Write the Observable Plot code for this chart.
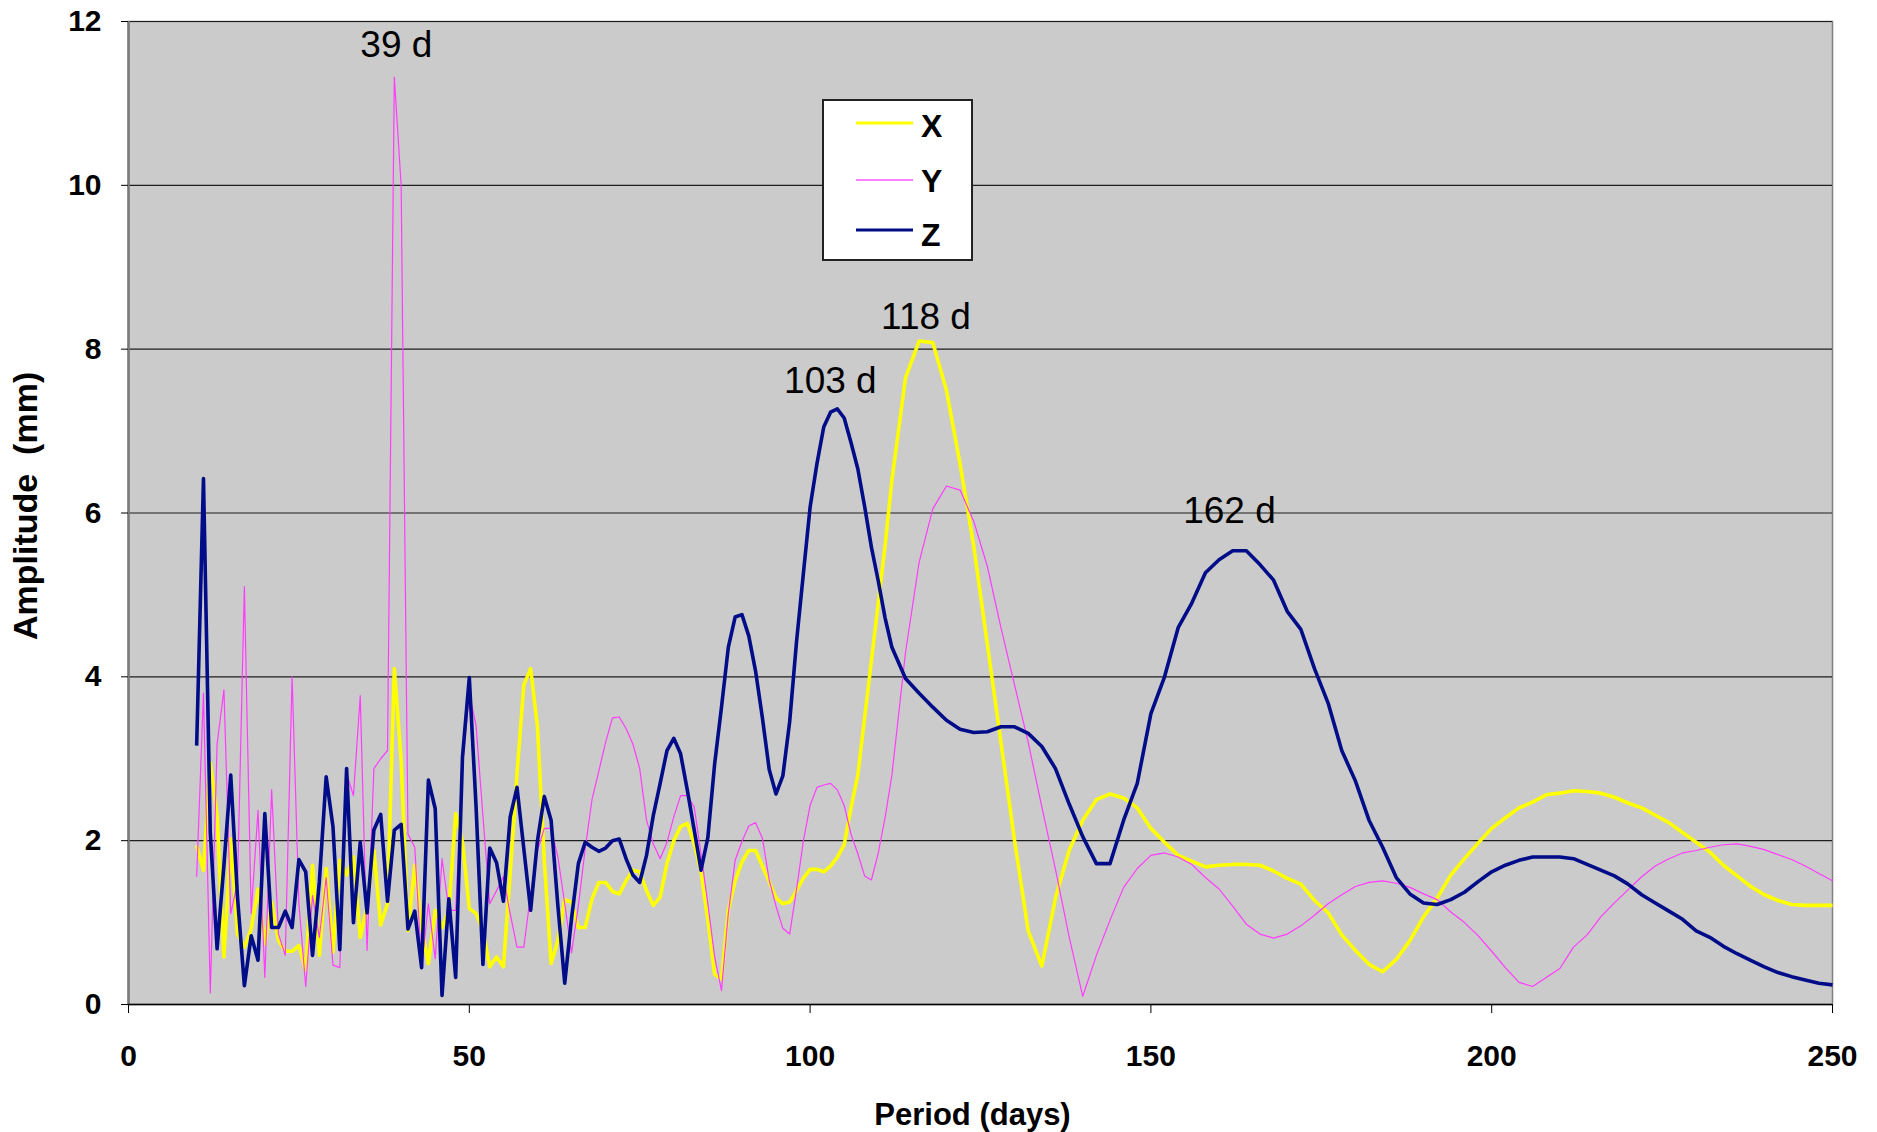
<!DOCTYPE html>
<html>
<head>
<meta charset="utf-8">
<script src="https://cdn.jsdelivr.net/npm/d3@7"></script>
<script src="https://cdn.jsdelivr.net/npm/@observablehq/plot@0.6"></script>
<style>
  html, body { margin: 0; padding: 0; background: #ffffff; overflow: hidden; }
  #chart { position: relative; width: 1877px; height: 1132px; }
  #legend { position: absolute; left: 822px; top: 99px; }
</style>
</head>
<body>
<div id="chart"></div>
<script>
// ---------- data ----------
const periods = [
  10,11,12,13,14,15,16,17,18,19,
  20,21,22,23,24,25,26,27,28,29,
  30,31,32,33,34,35,36,37,38,39,
  40,41,42,43,44,45,46,47,48,49,
  50,51,52,53,54,55,56,57,58,59,
  60,61,62,63,64,65,66,67,68,69,
  70,71,72,73,74,75,76,77,78,79,
  80,81,82,83,84,85,86,87,88,89,
  90,91,92,93,94,95,96,97,98,99,
  100,101,102,103,104,105,106,107,108,109,
  110,111,
  112,114,116,118,120,122,124,126,128,130,
  132,134,136,138,140,142,144,146,148,150,
  152,154,156,158,160,162,164,166,168,170,
  172,174,176,178,180,182,184,186,188,190,
  192,194,196,198,200,202,204,206,208,210,
  212,214,216,218,220,222,224,226,228,230,
  232,234,236,238,240,242,244,246,248,250
];

const ampX = [
  1.94,1.64,2.95,2.3,0.58,2.02,0.86,0.7,0.92,1.41,
  0.74,1.25,0.78,0.65,0.65,0.72,0.42,1.7,0.6,1.66,
  0.64,1.76,1.58,1.8,0.82,1.19,1.88,0.97,1.23,4.1,
  2.98,0.9,1.7,0.94,0.5,1.15,0.94,1.15,2.33,1.98,
  1.17,1.11,0.9,0.46,0.58,0.46,1.6,2.82,3.9,4.1,
  3.39,1.76,0.5,0.78,1.28,1.25,0.94,0.94,1.29,1.49,
  1.49,1.38,1.35,1.51,1.64,1.62,1.39,1.21,1.31,1.72,
  2.0,2.17,2.21,1.96,1.62,1.03,0.37,0.31,1.15,1.51,
  1.74,1.88,1.88,1.69,1.5,1.3,1.23,1.25,1.39,1.54,
  1.65,1.65,1.62,1.69,1.8,1.95,2.4,2.8,3.5,4.2,
  4.9,5.6,
  6.4,7.65,8.1,8.08,7.5,6.6,5.6,4.4,3.2,2.0,
  0.9,0.47,1.3,1.88,2.25,2.5,2.57,2.52,2.4,2.15,
  1.98,1.82,1.75,1.68,1.7,1.71,1.71,1.7,1.63,1.54,
  1.47,1.27,1.12,0.85,0.66,0.49,0.4,0.55,0.78,1.07,
  1.3,1.58,1.78,1.97,2.15,2.28,2.4,2.47,2.56,2.58,
  2.61,2.6,2.58,2.53,2.46,2.4,2.31,2.22,2.1,1.98,
  1.86,1.7,1.57,1.44,1.34,1.27,1.22,1.21,1.21,1.21
];

const ampY = [
  1.56,3.8,0.14,3.18,3.84,1.11,1.49,5.1,1.11,2.37,
  0.33,2.62,0.86,0.6,4.0,1.23,0.22,1.33,0.82,1.55,
  0.48,0.45,2.82,2.55,3.77,0.66,2.88,3.0,3.1,11.32,
  10.0,2.08,1.92,0.46,1.23,0.56,1.78,1.15,1.15,2.9,
  3.8,3.4,2.3,1.23,1.39,1.56,1.11,0.7,0.7,1.35,
  1.88,2.15,2.15,1.8,1.23,0.63,1.2,1.9,2.5,2.85,
  3.2,3.5,3.51,3.37,3.18,2.88,2.25,1.96,1.78,1.98,
  2.29,2.55,2.55,2.41,1.84,1.23,0.58,0.17,1.11,1.76,
  1.99,2.18,2.22,2.03,1.52,1.2,0.93,0.86,1.4,1.99,
  2.43,2.65,2.68,2.7,2.62,2.43,2.08,1.84,1.57,1.52,
  1.85,2.28,
  2.8,4.3,5.4,6.05,6.33,6.28,5.9,5.35,4.6,3.9,
  3.2,2.41,1.65,0.83,0.1,0.6,1.03,1.43,1.66,1.82,
  1.85,1.8,1.71,1.55,1.41,1.2,0.98,0.86,0.81,0.86,
  0.96,1.09,1.23,1.34,1.44,1.49,1.51,1.48,1.43,1.35,
  1.28,1.13,1.0,0.84,0.65,0.45,0.27,0.22,0.33,0.44,
  0.7,0.85,1.07,1.24,1.4,1.56,1.69,1.78,1.85,1.88,
  1.92,1.95,1.96,1.93,1.89,1.83,1.77,1.69,1.6,1.51
];

const ampZ = [
  3.16,6.42,2.1,0.68,1.7,2.8,1.3,0.23,0.84,0.54,
  2.33,0.94,0.94,1.14,0.94,1.77,1.62,0.6,1.5,2.78,
  2.17,0.67,2.88,1.0,1.98,1.12,2.13,2.32,1.26,2.13,
  2.2,0.92,1.14,0.45,2.74,2.39,0.11,1.29,0.33,3.02,
  3.99,2.4,0.49,1.91,1.73,1.26,2.29,2.65,1.9,1.15,
  2.0,2.54,2.25,1.2,0.26,1.05,1.72,1.98,1.92,1.87,
  1.91,2.0,2.02,1.78,1.58,1.49,1.82,2.31,2.7,3.1,
  3.25,3.06,2.61,2.13,1.64,2.04,2.94,3.63,4.36,4.73,
  4.76,4.5,4.07,3.5,2.87,2.57,2.79,3.45,4.42,5.25,
  6.07,6.6,7.05,7.23,7.27,7.16,6.86,6.54,6.08,5.58,
  5.17,4.72,
  4.36,3.98,3.8,3.63,3.47,3.36,3.32,3.33,3.39,3.39,
  3.31,3.15,2.88,2.45,2.05,1.72,1.72,2.25,2.7,3.55,
  4.0,4.6,4.9,5.27,5.43,5.54,5.54,5.37,5.18,4.8,
  4.58,4.1,3.68,3.1,2.73,2.25,1.92,1.55,1.35,1.24,
  1.22,1.28,1.37,1.5,1.62,1.7,1.76,1.8,1.8,1.8,
  1.78,1.71,1.64,1.57,1.47,1.34,1.24,1.14,1.04,0.9,
  0.82,0.71,0.62,0.54,0.46,0.39,0.34,0.3,0.26,0.24
];

const seriesNames = ["X", "Y", "Z"];
const xTicks = [0, 50, 100, 150, 200, 250];
const yTicks = [0, 2, 4, 6, 8, 10, 12];
const peakLabels = ["39 d", "103 d", "118 d", "162 d"];
const peakPeriods = [39, 104, 117, 163];
const peakAmps = [11.32, 7.27, 8.13, 5.54];

// ---------- styles ----------
const colors = { X: "#ffff00", Y: "#ff3cff", Z: "#000c88" };
const widths = { X: 3.6, Y: 1.2, Z: 3.6 };
const FONT = "'Liberation Sans', Arial, Helvetica, sans-serif";

// ---------- tables ----------
const valuesBySeries = { X: ampX, Y: ampY, Z: ampZ };
const rows = seriesNames.flatMap(s =>
  periods.map((p, i) => ({ series: s, period: p, amp: valuesBySeries[s][i] }))
);
const peaks = peakLabels.map((t, i) => ({ text: t, period: peakPeriods[i], amp: peakAmps[i] }));
const labelShift = [[2, -32], [-7, -28], [0, -21], [-10, -40]];

const lineMarks = seriesNames.map(s =>
  Plot.line(rows.filter(r => r.series === s), {
    x: "period", y: "amp", stroke: colors[s], strokeWidth: widths[s],
    strokeLinejoin: "round", strokeLinecap: "butt"
  })
);

const peakMarks = peaks.map((p, i) =>
  Plot.text([p], {
    x: "period", y: "amp", text: "text",
    dx: labelShift[i][0], dy: labelShift[i][1],
    fontSize: 37, fill: "#000", fontFamily: FONT
  })
);

const chart = Plot.plot({
  width: 1877,
  height: 1132,
  marginLeft: 128,
  marginRight: 45,
  marginTop: 21,
  marginBottom: 128,
  style: { fontFamily: FONT, background: "transparent", color: "#000", overflow: "visible" },
  x: { domain: [0, 250] },
  y: { domain: [0, 12] },
  marks: [
    Plot.frame({ fill: "#cbcbcb", stroke: "#808080", strokeWidth: 1.5 }),
    Plot.ruleY(yTicks.filter(v => v > 0), { stroke: "#1e1e1e", strokeWidth: 1.2 }),
    ...lineMarks,
    ...peakMarks,
    Plot.ruleX([0], { stroke: "#7a7a7a", strokeWidth: 2.5 }),
    Plot.ruleY([0], { stroke: "#000", strokeWidth: 1.5 }),
    Plot.axisX({
      ticks: xTicks, tickSize: 9, tickPadding: 31, tickFormat: d => String(d),
      fontSize: 30, fontWeight: "bold", label: null, stroke: "#000"
    }),
    Plot.axisY({
      ticks: yTicks, tickSize: 7, tickPadding: 20, tickFormat: d => String(d),
      fontSize: 30, fontWeight: "bold", label: null, stroke: "#000"
    }),
    Plot.text(["Period (days)"], {
      frameAnchor: "bottom", dy: 120, dx: -8,
      fontSize: 31, fontWeight: "bold", fill: "#000"
    }),
    Plot.text(["Amplitude  (mm)"], {
      frameAnchor: "left", dx: -102, dy: 127, rotate: -90,
      fontSize: 34, fontWeight: "bold", fill: "#000"
    })
  ]
});

const container = document.getElementById("chart");
container.appendChild(chart);

// ---------- legend (inside the plot area, as in the reference) ----------
const legendRows = [
  { name: "X", lineY: 24, textY: 26 },
  { name: "Y", lineY: 81, textY: 81 },
  { name: "Z", lineY: 131, textY: 135 }
];
const legend = d3.select(container).append("svg")
  .attr("id", "legend")
  .attr("width", 152).attr("height", 163);
legend.append("rect")
  .attr("x", 1).attr("y", 1).attr("width", 149).attr("height", 160)
  .attr("fill", "#ffffff").attr("stroke", "#222").attr("stroke-width", 2);
const legendLineColor = { X: "#ffff00", Y: "#ff80ff", Z: "#000c88" };
const legendLineWidth = { X: 3, Y: 2, Z: 3 };
legendRows.forEach(r => {
  legend.append("line")
    .attr("x1", 34).attr("x2", 91).attr("y1", r.lineY).attr("y2", r.lineY)
    .attr("stroke", legendLineColor[r.name]).attr("stroke-width", legendLineWidth[r.name]);
  legend.append("text")
    .attr("x", 99).attr("y", r.textY).attr("dy", "0.36em")
    .attr("font-family", FONT).attr("font-weight", "bold").attr("font-size", 32)
    .attr("fill", "#000").text(r.name);
});
</script>
</body>
</html>
